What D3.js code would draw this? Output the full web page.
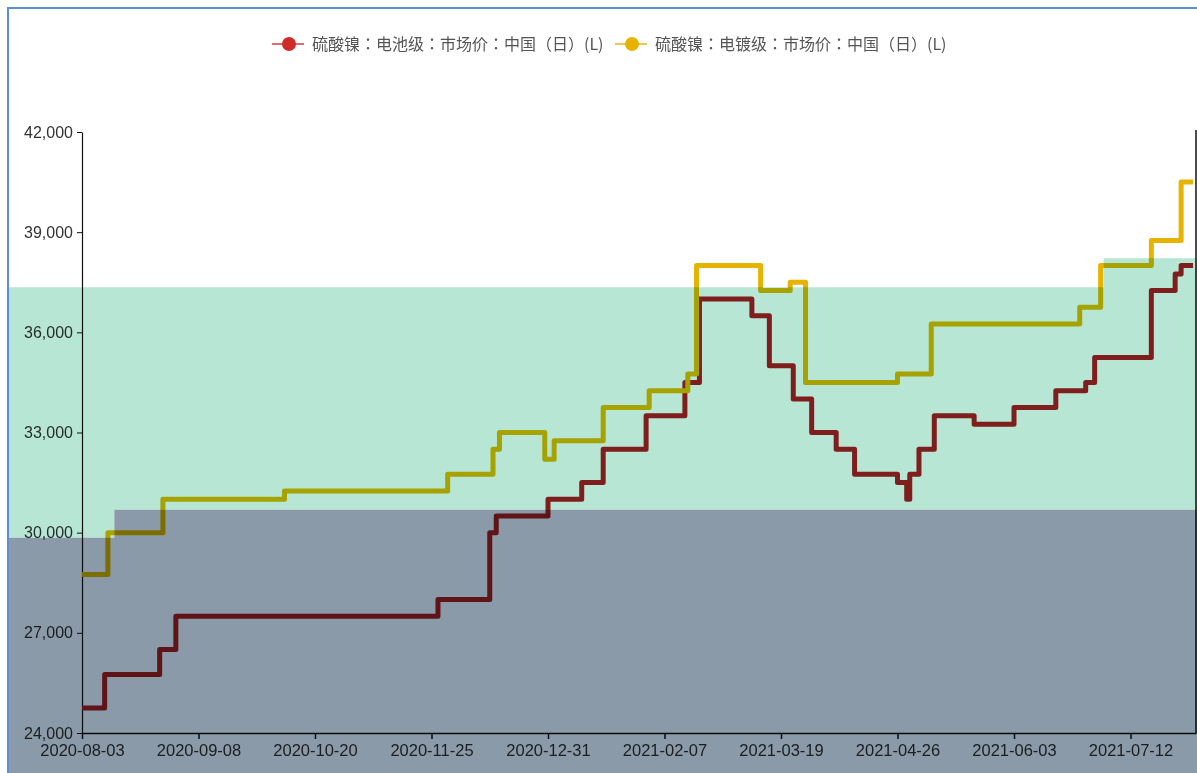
<!DOCTYPE html>
<html>
<head>
<meta charset="utf-8">
<script src="https://cdn.jsdelivr.net/npm/d3@7"></script>
<style>
  body { margin: 0; background: #fff; }
  svg { display: block; }
  .tick text { font-family: "Liberation Sans", Arial, sans-serif; fill: #333; }
</style>
</head>
<body>
<div id="chart"></div>
<script>
// legend names
let seriesNames = ['硫酸镍：电池级：市场价：中国（日）(L)', '硫酸镍：电镀级：市场价：中国（日）(L)'];

// battery grade (change points, step line)
let batteryDates = ['2020-08-03', '2020-08-10', '2020-08-27', '2020-09-01', '2020-11-27', '2020-12-13',
    '2020-12-15', '2020-12-31', '2021-01-11', '2021-01-18', '2021-02-01', '2021-02-14', '2021-02-19',
    '2021-03-09', '2021-03-15', '2021-03-23', '2021-03-29', '2021-04-06', '2021-04-12', '2021-04-26',
    '2021-04-29', '2021-04-30', '2021-05-03', '2021-05-08', '2021-05-21', '2021-06-03', '2021-06-17',
    '2021-06-27', '2021-06-30', '2021-07-19', '2021-07-27', '2021-07-29', '2021-08-02'];
let batteryValues = [24750, 25750, 26500, 27500, 28000, 30000,
    30500, 31000, 31500, 32500, 33500, 34500, 37000,
    36500, 35000, 34000, 33000, 32500, 31750, 31500,
    31000, 31750, 32500, 33500, 33250, 33750, 34250,
    34500, 35250, 37250, 37750, 38000, 38000];

// electroplating grade
let platingDates = ['2020-08-03', '2020-08-11', '2020-08-28', '2020-10-09', '2020-11-30', '2020-12-14',
    '2020-12-16', '2020-12-30', '2021-01-02', '2021-01-18', '2021-02-02', '2021-02-15', '2021-02-18',
    '2021-03-12', '2021-03-22', '2021-03-27', '2021-04-26', '2021-05-07', '2021-06-25', '2021-07-02',
    '2021-07-19', '2021-07-29', '2021-08-02'];
let platingValues = [28750, 30000, 31000, 31250, 31750, 32500,
    33000, 32200, 32750, 33750, 34250, 34750, 38000,
    37250, 37500, 34500, 34750, 36250, 36750, 38000,
    38750, 40500, 40500];

// axis labels
let xTickLabels = ['2020-08-03', '2020-09-08', '2020-10-20', '2020-11-25', '2020-12-31',
    '2021-02-07', '2021-03-19', '2021-04-26', '2021-06-03', '2021-07-12'];
let xEndDate = '2021-08-03';
let yTicks = [24000, 27000, 30000, 33000, 36000, 39000, 42000];

// shaded bands (value ranges, with a date where the edge shifts)
let bandShiftStart = '2020-08-13';
let bandShiftEnd = '2021-07-03';
let tealTop = [37350, 38220];
let grayTop = [29850, 30690];

let chart_width = 1197;
let chart_height = 773;
let plotLeft = 82, plotRight = 1196, plotTop = 132, plotBottom = 733;
let tickStep = 116.5;

let parse = d3.timeParse('%Y-%m-%d');
let fmt = d3.timeFormat('%Y-%m-%d');

let tickDates = xTickLabels.map(parse);
let xDomain = tickDates.concat([parse(xEndDate)]);
let xRange = tickDates.map((d, i) => plotLeft + i * tickStep).concat([plotRight]);

let svg = d3.select('#chart')
    .append('svg')
    .attr('width', chart_width)
    .attr('height', chart_height);

let xScale = d3.scaleTime().domain(xDomain).range(xRange);
let yScale = d3.scaleLinear().domain([24000, 42000]).range([plotBottom, plotTop]);

// axes
svg.append('g')
    .attr('transform', 'translate(0,' + plotBottom + ')')
    .call(d3.axisBottom(xScale).tickValues(tickDates).tickFormat(fmt).tickSize(6).tickSizeOuter(0).tickPadding(5))
    .call(g => g.select('.domain').attr('stroke', '#111').attr('stroke-width', 1.5))
    .call(g => g.selectAll('.tick line').attr('stroke', '#111').attr('stroke-width', 1.5))
    .call(g => g.selectAll('.tick text').attr('font-size', 16.5));

svg.append('g')
    .attr('transform', 'translate(' + plotLeft + ',0)')
    .call(d3.axisLeft(yScale).tickValues(yTicks).tickFormat(d3.format(',')).tickSize(5).tickSizeOuter(0).tickPadding(4))
    .call(g => g.select('.domain').attr('stroke', '#111').attr('stroke-width', 1.2))
    .call(g => g.selectAll('.tick line').attr('stroke', '#111'))
    .call(g => g.selectAll('.tick text').attr('font-size', 16));

svg.append('line')
    .attr('x1', plotRight).attr('x2', plotRight)
    .attr('y1', plotTop - 2).attr('y2', plotBottom)
    .attr('stroke', '#111').attr('stroke-width', 1.5);

// lines
let line = d3.line()
    .x(d => xScale(d.date))
    .y(d => yScale(d.value))
    .curve(d3.curveStepAfter);

let battery = batteryDates.map((d, i) => ({ date: parse(d), value: batteryValues[i] }));
let plating = platingDates.map((d, i) => ({ date: parse(d), value: platingValues[i] }));

svg.append('path')
    .datum(battery)
    .attr('d', line)
    .attr('fill', 'none')
    .attr('stroke', '#b02222')
    .attr('stroke-width', 5)
    .attr('stroke-linejoin', 'round');

svg.append('path')
    .datum(plating)
    .attr('d', line)
    .attr('fill', 'none')
    .attr('stroke', '#e6b400')
    .attr('stroke-width', 5)
    .attr('stroke-linejoin', 'round');

// shaded bands laid over the chart (multiply)
let frameL = 9;
let xs1 = xScale(parse(bandShiftStart));
let xs2 = xScale(parse(bandShiftEnd));
let bands = svg.append('g').style('mix-blend-mode', 'multiply');

bands.append('path')
    .attr('d', d3.line()([
        [frameL, yScale(tealTop[0])], [xs2, yScale(tealTop[0])], [xs2, yScale(tealTop[1])],
        [chart_width, yScale(tealTop[1])], [chart_width, yScale(grayTop[1])], [xs1, yScale(grayTop[1])],
        [xs1, yScale(grayTop[0])], [frameL, yScale(grayTop[0])]
    ]) + 'Z')
    .attr('fill', '#b8e6d4');

bands.append('path')
    .attr('d', d3.line()([
        [frameL, yScale(grayTop[0])], [xs1, yScale(grayTop[0])], [xs1, yScale(grayTop[1])],
        [chart_width, yScale(grayTop[1])], [chart_width, chart_height], [frameL, chart_height]
    ]) + 'Z')
    .attr('fill', '#8a9aa8');

// frame
svg.append('path')
    .attr('d', 'M8,' + chart_height + 'V8H' + chart_width)
    .attr('fill', 'none')
    .attr('stroke', '#5b8ed6')
    .attr('stroke-width', 2);

// legend
let legendColors = [['#e07070', '#d02a2a'], ['#ecc850', '#e6b400']];
let legendX = [272, 615];
seriesNames.forEach(function(name, i) {
    let g = svg.append('g').attr('transform', 'translate(' + legendX[i] + ',44)');
    g.append('line').attr('x1', 0).attr('x2', 32).attr('stroke', legendColors[i][0]).attr('stroke-width', 2);
    g.append('circle').attr('cx', 17).attr('r', 7).attr('fill', legendColors[i][1]);
    g.append('text')
        .attr('x', 40).attr('y', 5.5)
        .attr('font-family', '"Noto Sans CJK JP", "Noto Sans CJK SC", sans-serif')
        .attr('font-size', 16)
        .attr('fill', '#555')
        .text(name);
});
</script>
</body>
</html>
